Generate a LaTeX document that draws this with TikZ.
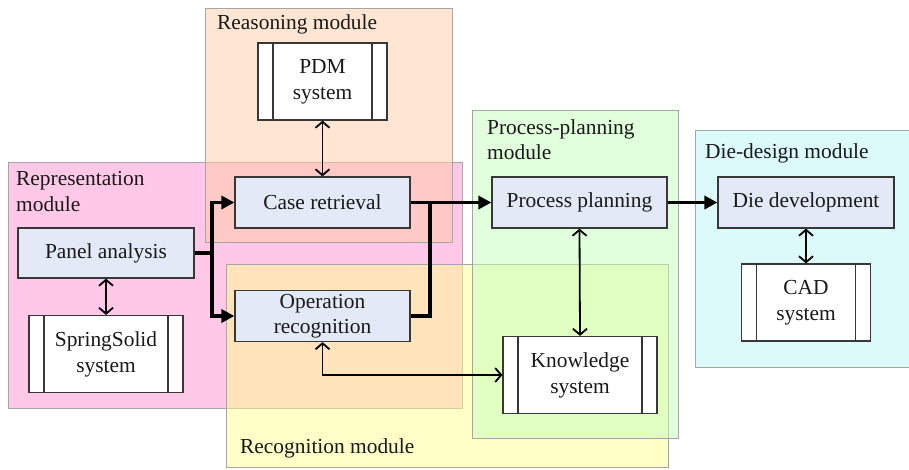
\documentclass[tikz,border=0pt]{standalone}
\usepackage{fontspec}
\setmainfont{Liberation Serif}
\usetikzlibrary{arrows.meta}
\definecolor{pinkm}{RGB}{255,145,205}
\definecolor{peachm}{RGB}{255,205,165}
\definecolor{yellowm}{RGB}{255,255,145}
\definecolor{greenm}{RGB}{195,255,185}
\definecolor{cyanm}{RGB}{185,245,245}
\definecolor{nodeblue}{RGB}{227,233,247}
\definecolor{edgegray}{RGB}{55,55,55}
\definecolor{modgray}{RGB}{165,165,165}
\definecolor{txt}{RGB}{25,25,25}
\tikzset{
  module/.style={draw=modgray, line width=1pt, fill opacity=0.5, draw opacity=1},
  modlabel/.style={anchor=base west, inner sep=0pt, text=txt, font=\fontsize{21.4}{25}\selectfont},
  procbox/.style={draw=edgegray, line width=1.2pt, fill=nodeblue, inner sep=0pt, align=center, text=txt,
    font=\fontsize{21.4}{25}\selectfont, minimum width=175pt, minimum height=51pt},
  sysbox/.style={draw=edgegray, line width=1.2pt, fill=white, inner sep=0pt, align=center, text=txt,
    font=\fontsize{21.4}{26}\selectfont,
    path picture={
      \draw[edgegray, line width=1.2pt] ([xshift=15pt]path picture bounding box.north west) -- ([xshift=15pt]path picture bounding box.south west);
      \draw[edgegray, line width=1.2pt] ([xshift=-15pt]path picture bounding box.north east) -- ([xshift=-15pt]path picture bounding box.south east);
    }},
  thickarrow/.style={line width=3.4pt, black, -{Triangle[length=13pt,width=13pt]}},
  thickline/.style={line width=3.4pt, black},
  thinarrow/.style={line width=1.8pt, black, {Straight Barb[length=6pt,width=14pt]}-{Straight Barb[length=6pt,width=14pt]}},
}
\begin{document}
\begin{tikzpicture}[x=1pt,y=-1pt]
\useasboundingbox (0,0) rectangle (909,469);
% modules
\path[module, fill=pinkm] (8,162) rectangle (462,408);
\path[module, fill=peachm] (205,8) rectangle (452,242);
\path[module, fill=yellowm] (226,264) rectangle (668,467);
\path[module, fill=greenm] (472,110) rectangle (678,438);
\path[module, fill=cyanm] (695,130) rectangle (912,367);
% module labels
\node[modlabel] (lreason) at (217,29) {Reasoning module};
\node[modlabel] (lrep1) at (16,185) {Representation};
\node[modlabel] (lrep2) at (16,211) {module};
\node[modlabel] (lrecog) at (240,453) {Recognition module};
\node[modlabel] (lproc1) at (487,134) {Process-planning};
\node[modlabel] (lproc2) at (487,159) {module};
\node[modlabel] (ldie) at (705,158) {Die-design module};
% nodes
\node[sysbox, minimum width=129pt, minimum height=77pt] (pdm) at (322.5,81.5) {PDM\\system};
\node[procbox] (cr) at (322.5,202.5) {Case retrieval};
\node[procbox, minimum width=176pt, minimum height=50pt] (pa) at (106,253) {Panel analysis};
\node[sysbox, minimum width=154pt, minimum height=77pt] (ss) at (106,354) {SpringSolid\\system};
\node[procbox] (or) at (322.5,316) {Operation\\recognition};
\node[sysbox, minimum width=154pt, minimum height=77pt] (ks) at (580,375) {Knowledge\\system};
\node[procbox] (pp) at (579.5,202.5) {Process planning};
\node[procbox, minimum width=176pt] (dd) at (806,202.5) {Die development};
\node[sysbox, minimum width=129pt, minimum height=77pt] (cad) at (806,302.5) {CAD\\system};
% connectors
\coordinate (j1) at (212,253);
\coordinate (j2) at (430,202.5);
\draw[thickarrow] (pa.east) -- (j1) |- (cr.west);
\draw[thickarrow] (j1) |- (or.west);
\draw[thickarrow] (cr.east) -- (pp.west);
\draw[thickline] (or.east) -| (j2);
\draw[thickarrow] (pp.east) -- (dd.west);
\draw[thinarrow] (pdm.south) -- (cr.north);
\draw[thinarrow] (pa.south) -- (ss.north);
\draw[thinarrow] (pp.south) -- (ks.north);
\draw[thinarrow] (dd.south) -- (cad.north);
\draw[thinarrow] (or.south) |- (ks.west);
\end{tikzpicture}
\end{document}
